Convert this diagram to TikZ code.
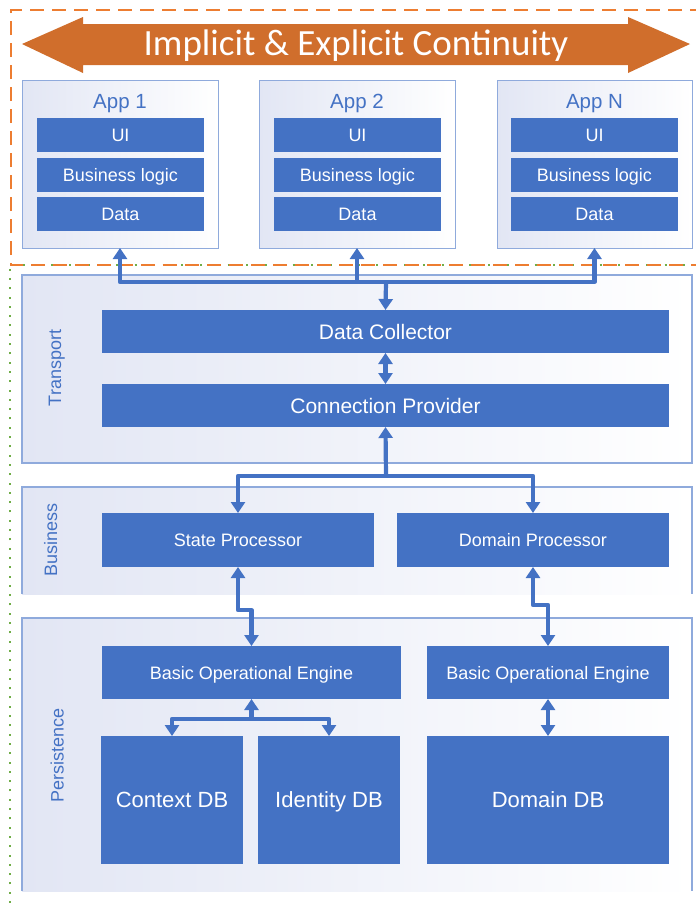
\documentclass[tikz,border=0pt]{standalone}
\usepackage{fontspec}
\setmainfont{Liberation Sans}
\newfontfamily\calibrifont{Carlito}
\usetikzlibrary{arrows.meta,calc}

\definecolor{mblue}{HTML}{4472C4}
\definecolor{banner}{HTML}{D06E2C}
\definecolor{dashorange}{HTML}{ED7D31}
\definecolor{dotgreen}{HTML}{70AD47}
\definecolor{lav}{RGB}{226,230,244}
\definecolor{edgeblue}{HTML}{8FAADC}

\newcommand\fsz[1]{\fontsize{#1}{#1}\selectfont}

\tikzset{
  bar/.style={fill=mblue, text=white, inner sep=0pt, outer sep=0pt, font=\fsz{18},
    execute at begin node={\vphantom{A}}, text depth=0pt},
  panel/.style={left color=lav, right color=white, inner sep=0pt, outer sep=0pt},
  edge/.style={draw=edgeblue, line width=1.2pt},
  layer/.style={text=mblue, font=\fsz{18}, rotate=90, anchor=base},
  conn/.style={draw=mblue, line width=4.2pt, line join=round},
  >={Triangle[width=14pt,length=11pt]}
}

\begin{document}
\begin{tikzpicture}[x=1pt,y=-1pt]
\useasboundingbox (0,0) rectangle (696,903);

% outer frames
\draw[dotgreen, line width=2pt, dash pattern=on 2pt off 7.3pt] (10,903) -- (10,265) -- (700,265);
\draw[dashorange, line width=1.6pt, dash pattern=on 14pt off 8pt] (705,265) -- (11,265) -- (11,10) -- (705,10);

% banner
\fill[banner] (22,44) -- (83,17) -- (83,24) -- (628,24) -- (628,17) -- (690,44)
  -- (628,73) -- (628,65) -- (83,65) -- (83,73) -- cycle;
\node[text=white, font=\calibrifont\fsz{37}, anchor=base] (title) at (356,55.5) {Implicit \& Explicit Continuity};

% applications
\foreach \n/\cx/\w/\lbl in {app1/120/196/App 1, app2/357/196/App 2, appN/594.5/195/App N}{
  \node[panel, draw=edgeblue, line width=1pt, minimum width=\w pt, minimum height=168pt] (\n) at (\cx,164) {};
  \node[text=mblue, font=\fsz{20.5}, anchor=base] (\n-title) at (\cx,108.5) {\lbl};
}
\foreach \n/\cx in {app1/120.5, app2/357.5, appN/594.5}{
  \node[bar, minimum width=167pt, minimum height=34pt] (\n-ui) at (\cx,135) {UI};
  \node[bar, minimum width=167pt, minimum height=34pt] (\n-bl) at (\cx,175) {Business logic};
  \node[bar, minimum width=167pt, minimum height=34pt] (\n-data) at (\cx,214) {Data};
}

% transport layer
\node[panel, draw=edgeblue, line width=1.2pt, minimum width=670pt, minimum height=188pt] (transport) at (357,369) {};
\node[layer] (transport-lbl) at (61,368) {Transport};
\node[bar, font=\fsz{21}, minimum width=567pt, minimum height=43pt] (dc) at (385.5,331.5) {Data Collector};
\node[bar, font=\fsz{21}, minimum width=567pt, minimum height=43pt] (cp) at (385.5,405.5) {Connection Provider};

% business layer
\node[panel, minimum width=670pt, minimum height=107pt] (business) at (357,540.5) {};
\draw[edge] (business.south west) -- (business.north west) -- (business.north east) -- (business.south east);
\node[layer] (business-lbl) at (57,540) {Business};
\node[bar, minimum width=272pt, minimum height=54pt] (sp) at (238,540) {State Processor};
\node[bar, minimum width=272pt, minimum height=54pt] (dp) at (533,540) {Domain Processor};

% persistence layer
\node[panel, minimum width=670pt, minimum height=273pt] (persist) at (357,754.5) {};
\draw[edge] (persist.south west) -- (persist.north west) -- (persist.north east) -- (persist.south east);
\node[layer] (persist-lbl) at (63.5,755) {Persistence};
\node[bar, minimum width=299pt, minimum height=53pt] (boeL) at (251.5,672.5) {Basic Operational Engine};
\node[bar, minimum width=242pt, minimum height=53pt] (boeR) at (548,672.5) {Basic Operational Engine};
\node[bar, font=\fsz{22}, minimum width=142pt, minimum height=128pt] (ctx) at (172,800) {Context DB};
\node[bar, font=\fsz{22}, minimum width=142pt, minimum height=128pt] (idb) at (329,800) {Identity DB};
\node[bar, font=\fsz{22}, minimum width=242pt, minimum height=128pt] (ddb) at (548,800) {Domain DB};

% connectors
\coordinate (bus) at (386,282);
\draw[conn, <->] (app1.south) |- (bus) -| (appN.south);
\draw[conn, ->] (app2.south |- bus) -- (app2.south);
\draw[conn, ->] (bus) -- (dc.north);
\draw[conn, <->] (dc.south) -- (cp.north);

\coordinate (split) at (386,476);
\draw[conn, <->] (sp.north) |- (split) -| (dp.north);
\draw[conn, ->] (split) -- (cp.south);

\draw[conn, <->] (sp.south) -- ++(0,43) -| (boeL.north);
\draw[conn, <->] (dp.south) -- ++(0,38) -| (boeR.north);

\coordinate (dbsplit) at (251.5,719);
\draw[conn, <->] (ctx.north) |- (dbsplit) -| (idb.north);
\draw[conn, ->] (dbsplit) -- (boeL.south);
\draw[conn, <->] (boeR.south) -- (ddb.north);
\end{tikzpicture}
\end{document}
